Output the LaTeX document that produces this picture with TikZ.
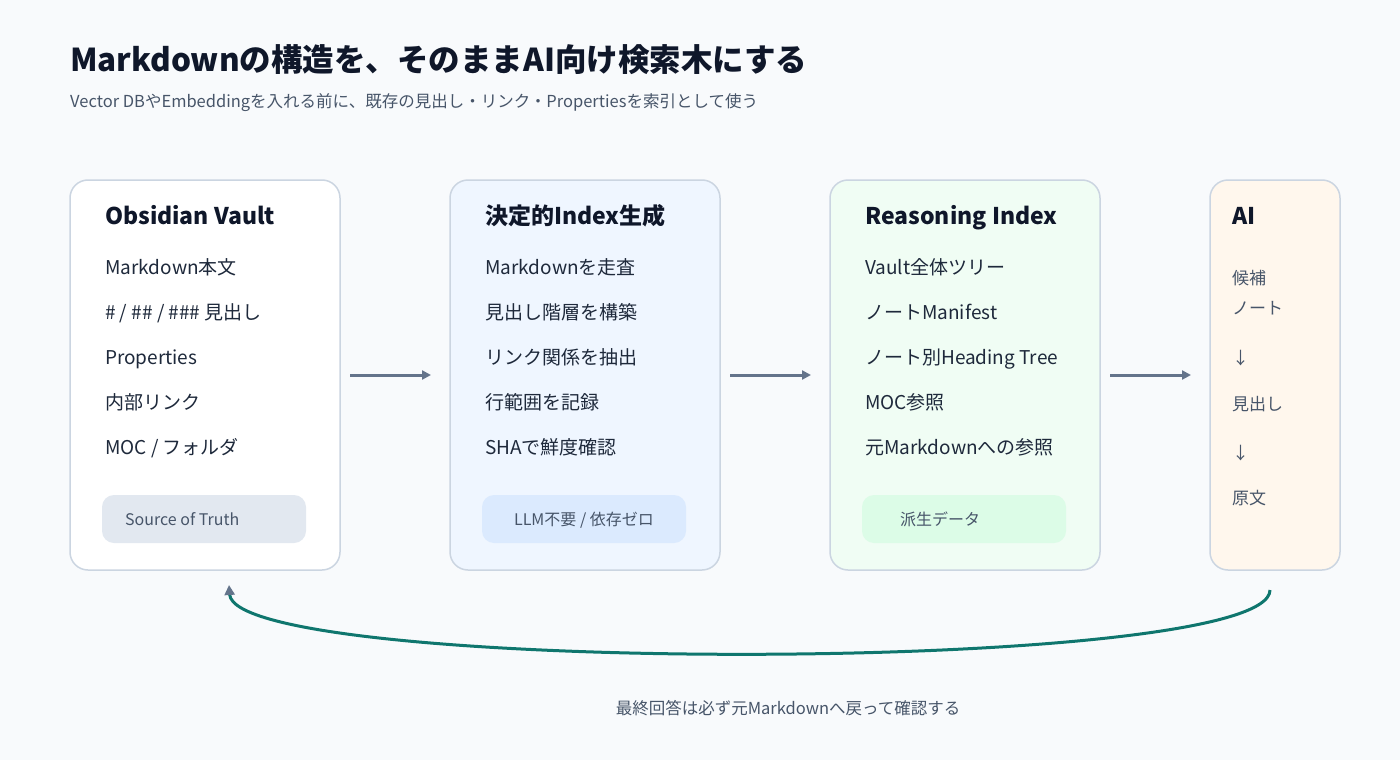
\documentclass[tikz,border=0pt]{standalone}
\usepackage{fontspec}
\setmainfont{Noto Sans CJK JP}
\usetikzlibrary{arrows.meta}
\definecolor{bg}{HTML}{F8FAFC}
\definecolor{ink}{HTML}{0F172A}
\definecolor{body}{HTML}{1E293B}
\definecolor{sub}{HTML}{475569}
\definecolor{edge}{HTML}{CBD5E1}
\definecolor{arr}{HTML}{64748B}
\definecolor{teal}{HTML}{0F766E}
\definecolor{f2}{HTML}{EFF6FF}
\definecolor{f3}{HTML}{F0FDF4}
\definecolor{f4}{HTML}{FFF7ED}
\definecolor{g1}{HTML}{E2E8F0}
\definecolor{g2}{HTML}{DBEAFE}
\definecolor{g3}{HTML}{DCFCE7}
\tikzset{
 box/.style={draw=edge,line width=1.5pt,rounded corners=18pt},
 badge/.style={rounded corners=12pt},
 ttl/.style={anchor=base west,font=\fontsize{23}{28}\selectfont\bfseries,text=ink,inner sep=0},
 item/.style={anchor=base west,font=\fontsize{19}{22}\selectfont,text=body,inner sep=0},
 aiitem/.style={anchor=base west,font=\fontsize{17}{20}\selectfont,text=sub,inner sep=0},
 btxt/.style={anchor=base,font=\fontsize{16}{20}\selectfont,text=sub,inner sep=0},
 flow/.style={draw=arr,line width=3pt,-{Triangle[length=9pt,width=9pt]}},
}
\begin{document}
\begin{tikzpicture}[x=1pt,y=-1pt]
\fill[bg] (0,0) rectangle (1400,760);
\useasboundingbox (0,0) rectangle (1400,760);
\node[anchor=base west,inner sep=0,text=ink,font=\fontsize{31.5}{36}\selectfont\bfseries] (title) at (70,71) {Markdownの構造を、そのままAI向け検索木にする};
\node[anchor=base west,inner sep=0,text=sub,font=\fontsize{16.5}{20}\selectfont] (subt) at (70,107) {Vector DBやEmbeddingを入れる前に、既存の見出し・リンク・Propertiesを索引として使う};
% boxes
\draw[box,fill=white] (70,180) rectangle (340,570);
\draw[box,fill=f2] (450,180) rectangle (720,570);
\draw[box,fill=f3] (830,180) rectangle (1100,570);
\draw[box,fill=f4] (1210,180) rectangle (1340,570);
% box1
\node[ttl] (t1) at (105,224) {Obsidian Vault};
\foreach \t [count=\i] in {Markdown本文,\# / \#\# / \#\#\# 見出し,Properties,内部リンク,MOC / フォルダ}
  \node[item] (a\i) at (105,229+45*\i) {\t};
\fill[badge,fill=g1] (102,495) rectangle (306,543);
\node[btxt,anchor=base west] (s1) at (125,525) {Source of Truth};
% box2
\node[ttl] (t2) at (485,224) {決定的Index生成};
\foreach \t [count=\i] in {Markdownを走査,見出し階層を構築,リンク関係を抽出,行範囲を記録,SHAで鮮度確認}
  \node[item] (b\i) at (485,229+45*\i) {\t};
\fill[badge,fill=g2] (482,495) rectangle (686,543);
\node[btxt] (s2) at (584,525) {LLM不要 / 依存ゼロ};
% box3
\node[ttl] (t3) at (865,224) {Reasoning Index};
\foreach \t [count=\i] in {Vault全体ツリー,ノートManifest,ノート別Heading Tree,MOC参照,元Markdownへの参照}
  \node[item] (c\i) at (865,229+45*\i) {\t};
\fill[badge,fill=g3] (862,495) rectangle (1066,543);
\node[btxt,anchor=base west] (s3) at (900,525) {派生データ};
% box4
\node[ttl] (t4) at (1232,224) {AI};
\node[aiitem] (d1) at (1232,284) {候補};
\node[aiitem] (d2) at (1232,314) {ノート};
\node[aiitem] (d3) at (1232,364) {↓};
\node[aiitem] (d4) at (1232,410) {見出し};
\node[aiitem] (d5) at (1232,459) {↓};
\node[aiitem] (d6) at (1232,504) {原文};
% flow arrows
\coordinate (p1) at (350,375); \coordinate (q1) at (431,375);
\coordinate (p2) at (730,375); \coordinate (q2) at (811,375);
\coordinate (p3) at (1110,375); \coordinate (q3) at (1191,375);
\draw[flow] (p1) -- (q1);
\draw[flow] (p2) -- (q2);
\draw[flow] (p3) -- (q3);
% feedback
\coordinate (fs) at (1270,590);
\coordinate (fe) at (229,585);
\draw[teal,line width=3pt,-{Triangle[length=10pt,width=10pt,color=arr]}] (fs) .. controls (1270,675) and (235,675) .. (fe);
\node[btxt,font=\fontsize{16.5}{20}\selectfont] (note) at (788,714) {最終回答は必ず元Markdownへ戻って確認する};
\end{tikzpicture}
\end{document}
